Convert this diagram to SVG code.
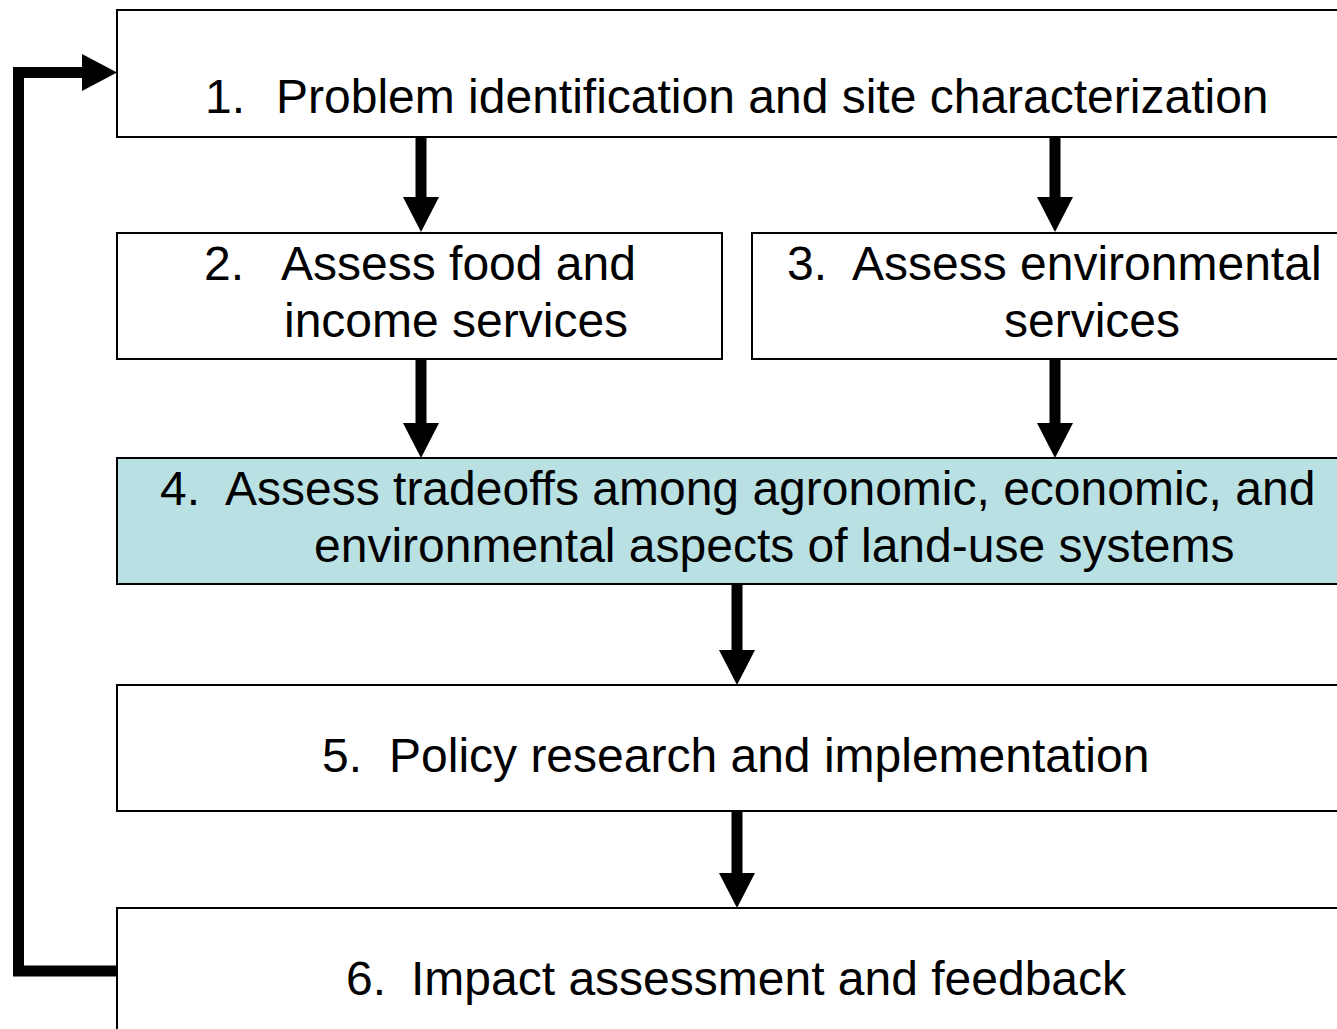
<svg xmlns="http://www.w3.org/2000/svg" width="1337" height="1029" viewBox="0 0 1337 1029">
<style>
.box{fill:#ffffff;stroke:#000000;stroke-width:2}
.hl{fill:#b9e0e3}
.t{font-family:"Liberation Sans",Arial,sans-serif;font-size:48px;fill:#000000}
.shaft{stroke:#000000;stroke-width:11;fill:none}
.head{fill:#000000}
</style>
<rect width="1337" height="1029" fill="#ffffff"/>
<g id="node1">
<rect class="box" x="117" y="10" width="1240" height="127"/>
<text class="t" x="205" y="113">1.</text>
<text class="t" x="276" y="113">Problem identification and site characterization</text>
</g>
<g id="node2">
<rect class="box" x="117" y="233" width="605" height="126"/>
<text class="t" x="204" y="280">2.</text>
<text class="t" x="281" y="280">Assess food and</text>
<text class="t" x="284" y="337">income services</text>
</g>
<g id="node3">
<rect class="box" x="752" y="233" width="605" height="126"/>
<text class="t" x="787" y="280">3.</text>
<text class="t" x="852" y="280">Assess environmental</text>
<text class="t" x="1004" y="337">services</text>
</g>
<g id="node4">
<rect class="box hl" x="117" y="458" width="1240" height="126"/>
<text class="t" x="160" y="505">4.</text>
<text class="t" x="225" y="505">Assess tradeoffs among agronomic, economic, and</text>
<text class="t" x="314" y="562">environmental aspects of land-use systems</text>
</g>
<g id="node5">
<rect class="box" x="117" y="685" width="1240" height="126"/>
<text class="t" x="322" y="772">5.</text>
<text class="t" x="389" y="772">Policy research and implementation</text>
</g>
<g id="node6">
<rect class="box" x="117" y="908" width="1240" height="140"/>
<text class="t" x="346" y="995">6.</text>
<text class="t" x="411" y="995">Impact assessment and feedback</text>
</g>
<g id="connectors">
<line class="shaft" x1="421" y1="137" x2="421" y2="198"/>
<polygon class="head" points="403,197 439,197 421,232"/>
<line class="shaft" x1="1055" y1="137" x2="1055" y2="198"/>
<polygon class="head" points="1037,197 1073,197 1055,232"/>
<line class="shaft" x1="421" y1="359" x2="421" y2="424"/>
<polygon class="head" points="403,423 439,423 421,458"/>
<line class="shaft" x1="1055" y1="359" x2="1055" y2="424"/>
<polygon class="head" points="1037,423 1073,423 1055,458"/>
<line class="shaft" x1="737" y1="584" x2="737" y2="651"/>
<polygon class="head" points="719,650 755,650 737,685"/>
<line class="shaft" x1="737" y1="811" x2="737" y2="874"/>
<polygon class="head" points="719,873 755,873 737,908"/>
<path class="shaft" d="M117,971 H18.5 V72.5 H84"/>
<polygon class="head" points="82,54 117,72.5 82,91"/>
</g>
</svg>
